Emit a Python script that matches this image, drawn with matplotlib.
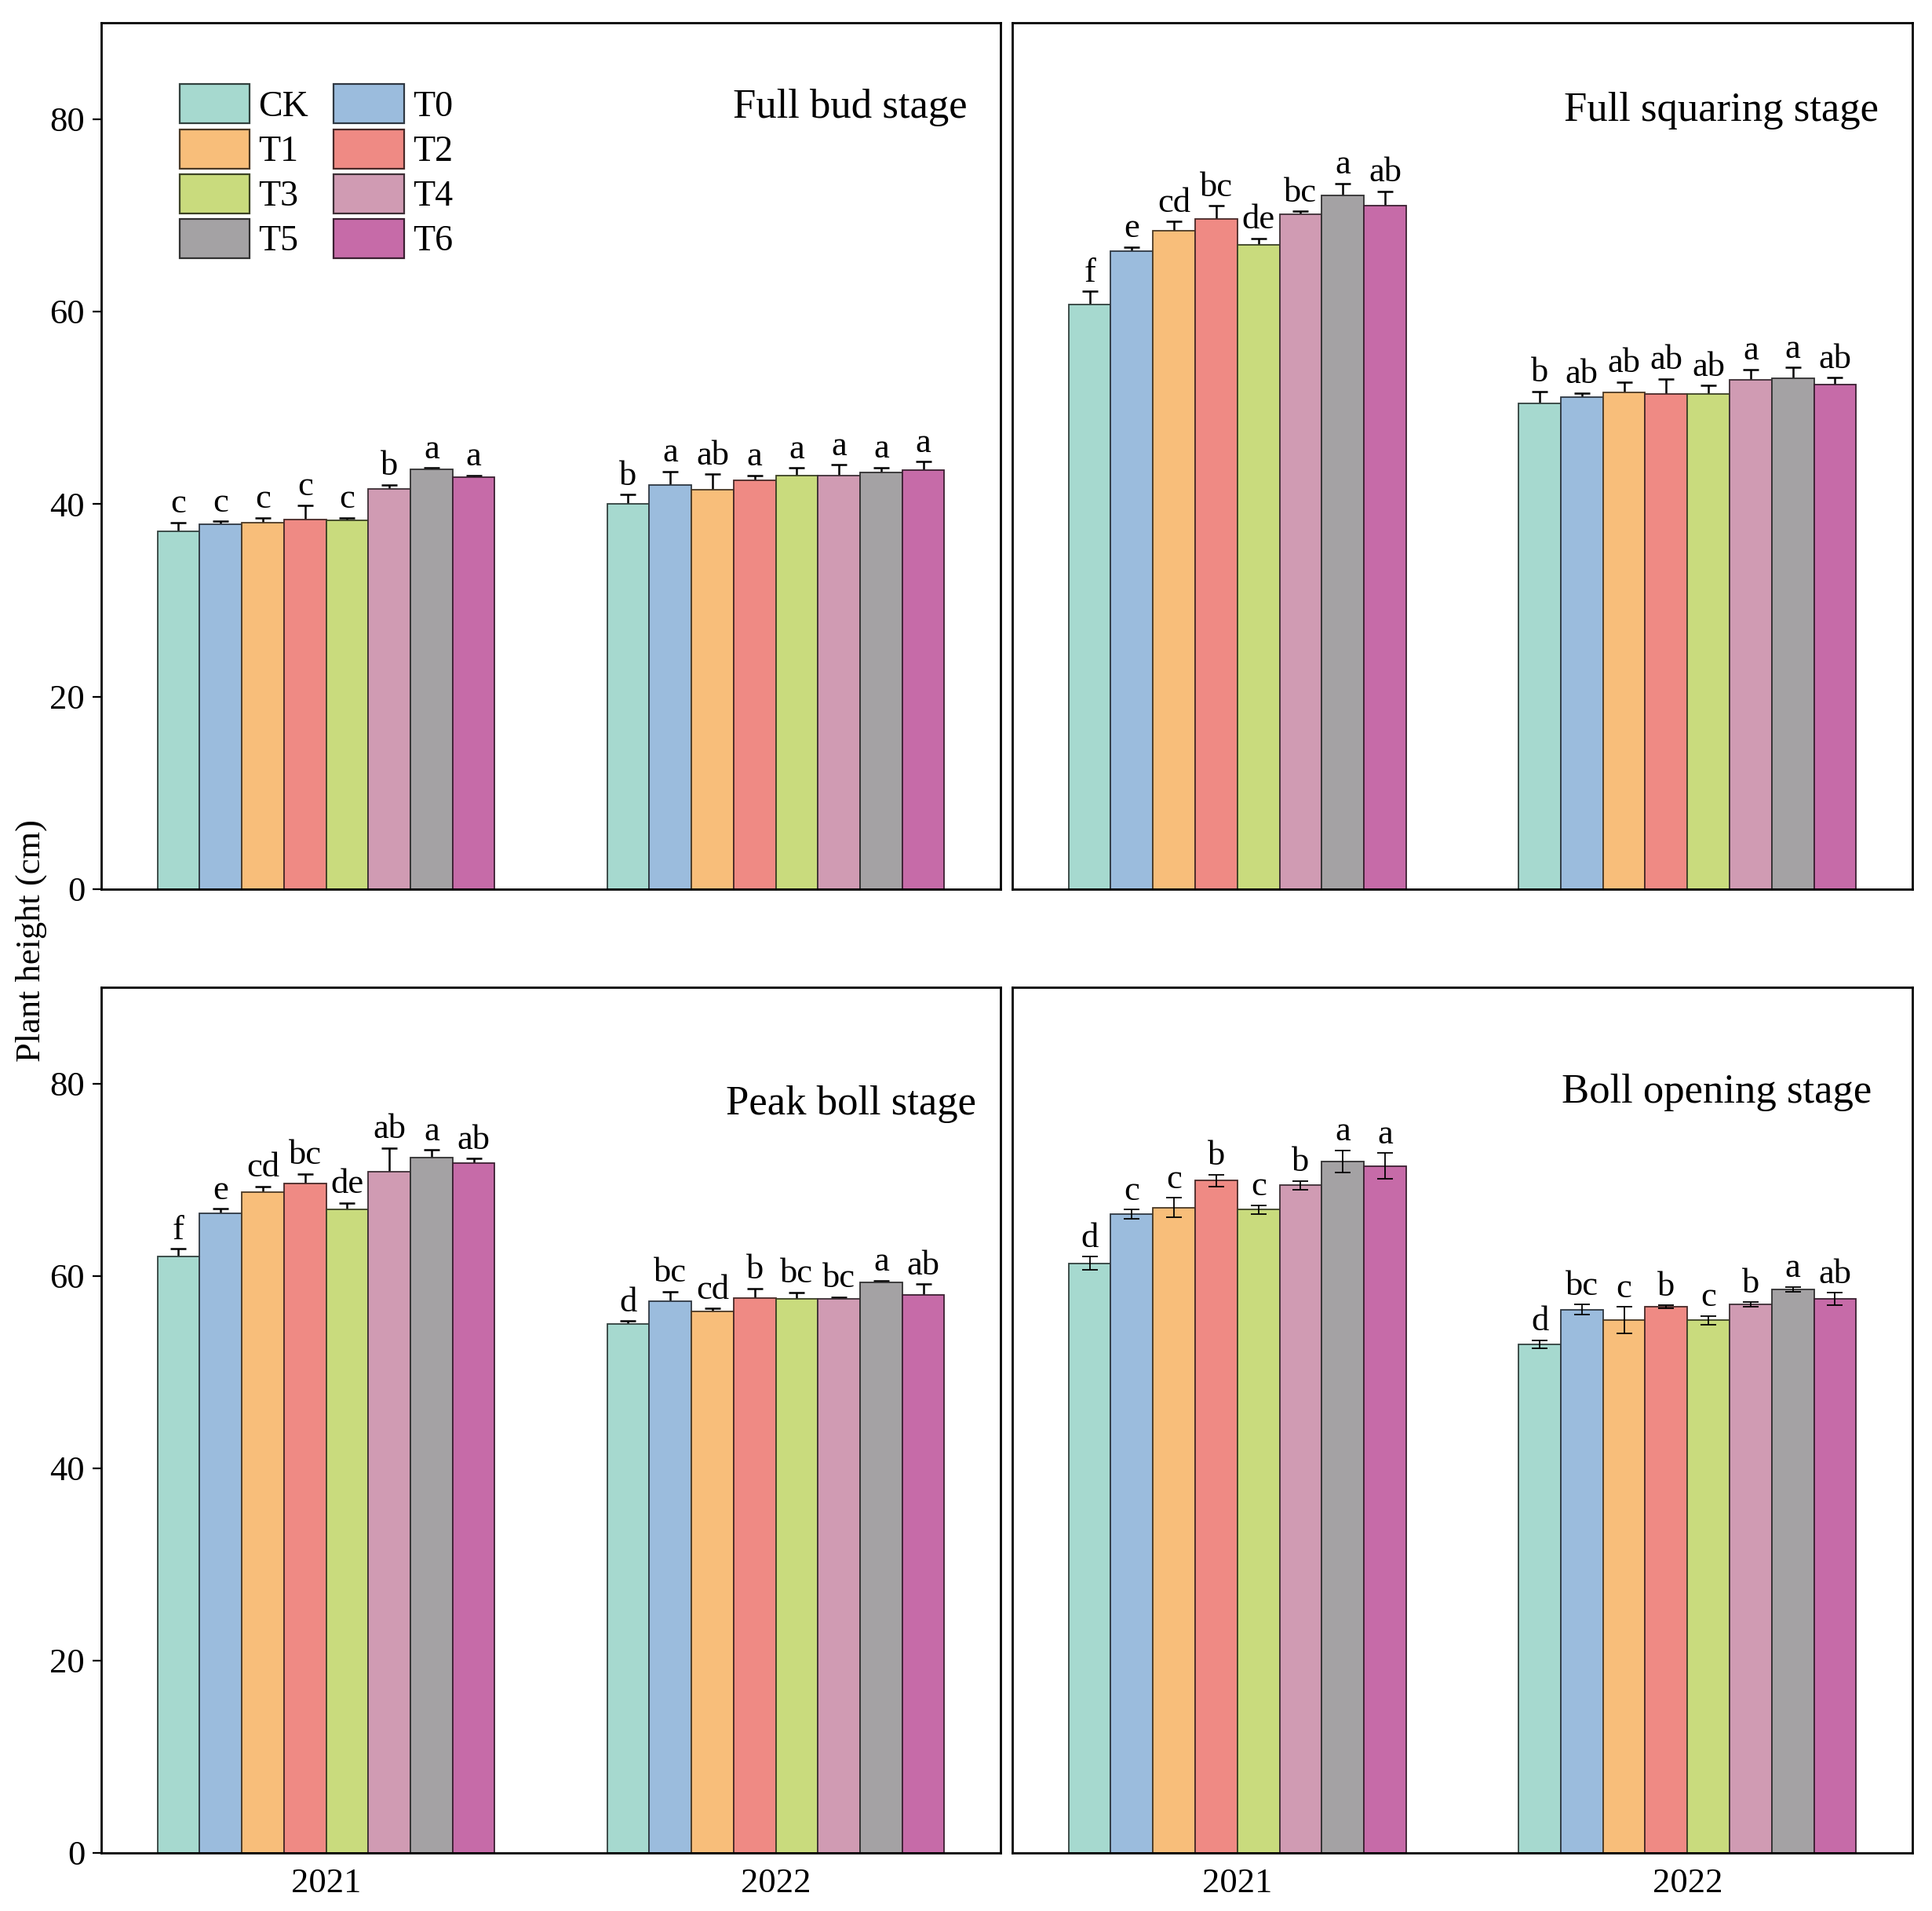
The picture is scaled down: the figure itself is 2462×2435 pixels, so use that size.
import matplotlib
matplotlib.use('Agg')
import matplotlib.pyplot as plt
import numpy as np
from matplotlib.patches import Patch
from matplotlib.colors import to_rgb
import matplotlib.transforms as mtransforms

plt.rcParams['font.family'] = ['Liberation Serif', 'DejaVu Serif']

treatments = ['CK', 'T0', 'T1', 'T2', 'T3', 'T4', 'T5', 'T6']
years = ['2021', '2022']
colors = ['#A6D9CF', '#9BBCDD', '#F8BE7A', '#EF8A84', '#C9DB7D', '#D09BB3', '#A4A2A4', '#C66BA8']
stages = ['Full bud stage', 'Full squaring stage', 'Peak boll stage', 'Boll opening stage']

# Full bud stage
bud_2021 = [37.2, 37.9, 38.1, 38.4, 38.3, 41.6, 43.6, 42.8]
bud_2021_err = [0.9, 0.3, 0.5, 1.5, 0.3, 0.4, 0.15, 0.2]
bud_2021_sig = ['c', 'c', 'c', 'c', 'c', 'b', 'a', 'a']
bud_2022 = [40.0, 42.0, 41.5, 42.5, 43.0, 43.0, 43.3, 43.5]
bud_2022_err = [1.0, 1.4, 1.6, 0.5, 0.75, 1.1, 0.5, 0.9]
bud_2022_sig = ['b', 'a', 'ab', 'a', 'a', 'a', 'a', 'a']

# Full squaring stage
squ_2021 = [60.7, 66.25, 68.4, 69.6, 66.9, 70.1, 72.1, 71.0]
squ_2021_err = [1.4, 0.45, 0.95, 1.4, 0.7, 0.3, 1.2, 1.5]
squ_2021_sig = ['f', 'e', 'cd', 'bc', 'de', 'bc', 'a', 'ab']
squ_2022 = [50.5, 51.1, 51.6, 51.4, 51.4, 52.9, 53.1, 52.4]
squ_2022_err = [1.2, 0.45, 1.1, 1.6, 0.9, 1.1, 1.1, 0.75]
squ_2022_sig = ['b', 'ab', 'ab', 'ab', 'ab', 'a', 'a', 'ab']

# Peak boll stage
pb_2021 = [62.0, 66.5, 68.7, 69.6, 66.9, 70.8, 72.3, 71.7]
pb_2021_err = [0.8, 0.45, 0.6, 1.0, 0.7, 2.5, 0.8, 0.5]
pb_2021_sig = ['f', 'e', 'cd', 'bc', 'de', 'ab', 'a', 'ab']
pb_2022 = [55.0, 57.35, 56.3, 57.7, 57.6, 57.6, 59.3, 58.0]
pb_2022_err = [0.3, 1.0, 0.3, 1.0, 0.7, 0.2, 0.2, 1.15]
pb_2022_sig = ['d', 'bc', 'cd', 'b', 'bc', 'bc', 'a', 'ab']

# Boll opening stage
bo_2021 = [61.3, 66.4, 67.1, 69.9, 66.9, 69.4, 71.9, 71.4]
bo_2021_err = [0.7, 0.5, 1.0, 0.6, 0.45, 0.45, 1.15, 1.35]
bo_2021_sig = ['d', 'c', 'c', 'b', 'c', 'b', 'a', 'a']
bo_2022 = [52.9, 56.5, 55.4, 56.8, 55.4, 57.0, 58.6, 57.6]
bo_2022_err = [0.4, 0.5, 1.35, 0.15, 0.45, 0.25, 0.25, 0.65]
bo_2022_sig = ['d', 'bc', 'c', 'b', 'c', 'b', 'a', 'ab']

panels = [
    (stages[0], [bud_2021, bud_2022], [bud_2021_err, bud_2022_err], [bud_2021_sig, bud_2022_sig]),
    (stages[1], [squ_2021, squ_2022], [squ_2021_err, squ_2022_err], [squ_2021_sig, squ_2022_sig]),
    (stages[2], [pb_2021, pb_2022], [pb_2021_err, pb_2022_err], [pb_2021_sig, pb_2022_sig]),
    (stages[3], [bo_2021, bo_2022], [bo_2021_err, bo_2022_err], [bo_2021_sig, bo_2022_sig]),
]

W, H = 2462, 2435
fig = plt.figure(figsize=(W / 100, H / 100), dpi=100)

def rect(l, r, t, b):
    return [l / W, 1 - b / H, (r - l) / W, (b - t) / H]

rects = [rect(129, 1275, 29, 1133), rect(1290, 2437, 29, 1133),
         rect(129, 1275, 1258, 2361), rect(1290, 2437, 1258, 2361)]
title_pos = [(0.963, 80.1), (0.9625, 79.8), (0.973, 76.8), (0.955, 78.0)]

bw = 0.75 / 8
edge_cols = [tuple(np.array(to_rgb(c)) * 0.3) for c in colors]

for k, (title, means, errs, sigs) in enumerate(panels):
    ax = fig.add_axes(rects[k])
    err_front = (k == 3)
    for g in range(2):
        for i in range(8):
            x = g + (i - 3.5) * bw
            ax.bar(x, means[g][i], width=bw, color=colors[i], edgecolor=edge_cols[i],
                   linewidth=1.3, zorder=2)
            ax.errorbar(x, means[g][i], yerr=errs[g][i], fmt='none', ecolor='black',
                        elinewidth=1.3 if err_front else 1.8, capsize=7,
                        capthick=1.3 if err_front else 1.8,
                        zorder=4 if err_front else 1)
            ax.annotate(sigs[g][i], (x, means[g][i] + errs[g][i]), xytext=(0, 9),
                        textcoords='offset points', ha='center', va='baseline',
                        fontsize=32, zorder=5)
    ax.set_xlim(-0.5, 1.5)
    ax.set_ylim(0, 90)
    ax.set_yticks([0, 20, 40, 60, 80])
    ax.set_xticks([0, 1])
    ax.set_xticklabels(years)
    for sp in ax.spines.values():
        sp.set_linewidth(2)
    ax.tick_params(axis='y', direction='out', length=8, width=1.6, labelsize=32, pad=7)
    ax.tick_params(axis='x', length=0, labelsize=32, pad=14)
    if k in (1, 3):
        ax.tick_params(axis='y', left=False, labelleft=False)
    if k in (0, 1):
        ax.tick_params(axis='x', labelbottom=False)
    trans = mtransforms.blended_transform_factory(ax.transAxes, ax.transData)
    ax.text(title_pos[k][0], title_pos[k][1], title, transform=trans,
            ha='right', va='baseline', fontsize=38)
    if k == 0:
        order = [0, 2, 4, 6, 1, 3, 5, 7]
        handles = [Patch(facecolor=colors[j], edgecolor=edge_cols[j], linewidth=1.6,
                         label=treatments[j]) for j in order]
        ax.legend(handles=handles, ncol=2, loc='upper left', bbox_to_anchor=(0.087, 0.929),
                  frameon=False, fontsize=33, borderpad=0, borderaxespad=0,
                  handlelength=1.95, handleheight=1.3, handletextpad=0.25,
                  columnspacing=0.7, labelspacing=0.15)

fig.text(40 / W, 0.508, 'Plant height (cm)', rotation=90, ha='center', va='center',
         fontsize=32)

fig.savefig('out.png', dpi=100)
